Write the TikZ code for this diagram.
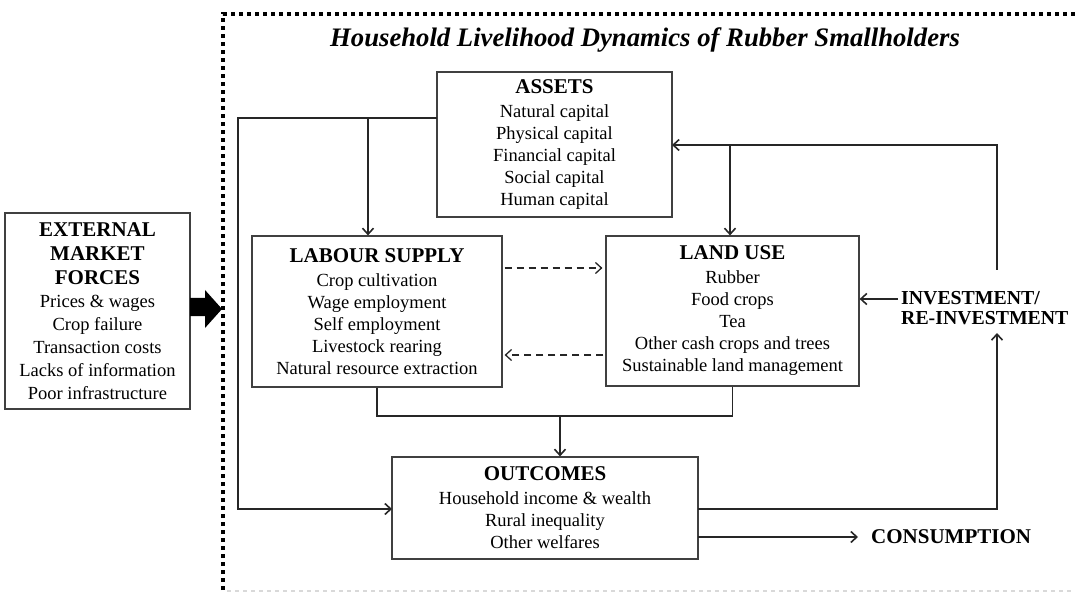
\documentclass[tikz,border=0pt]{standalone}
\usepackage{fontspec}
\setmainfont{Liberation Serif}
\usetikzlibrary{arrows.meta,positioning}

\newcommand{\boxhead}[1]{{\bfseries\fontsize{21}{22}\selectfont #1}}

\begin{document}
\begin{tikzpicture}[x=1pt,y=-1pt,>={Straight Barb[length=6pt,width=11pt]},
    box/.style={draw=black!75,line width=1.2pt,align=center,inner sep=0pt,font=\fontsize{18.5}{22}\selectfont},
    conn/.style={->,draw=black!85,line width=1.6pt},
    link/.style={draw=black!85,line width=1.6pt},
    frame/.style={line width=4pt,dash pattern=on 4pt off 4pt}]
    \useasboundingbox (0,0) rectangle (1075,593);
    \clip (0,0) rectangle (1075,593);

    % boxes
    \node[box,minimum width=235pt,minimum height=145pt] (assets) at (554.5,144.5)
        {\boxhead{ASSETS}\\[2pt] Natural capital\\ Physical capital\\ Financial capital\\ Social capital\\ Human capital};
    \node[box,minimum width=250pt,minimum height=151pt] (labour) at (377,311.5)
        {\boxhead{LABOUR SUPPLY}\\[2pt] Crop cultivation\\ Wage employment\\ Self employment\\ Livestock rearing\\ Natural resource extraction};
    \node[box,minimum width=253pt,minimum height=150pt] (landuse) at (732.5,311)
        {\boxhead{LAND USE}\\[2pt] Rubber\\ Food crops\\ Tea\\ Other cash crops and trees\\ Sustainable land management};
    \node[box,minimum width=306pt,minimum height=102pt] (outcomes) at (545,508)
        {\boxhead{OUTCOMES}\\[2pt] Household income \& wealth\\ Rural inequality\\ Other welfares};
    \node[box,minimum width=185pt,minimum height=196pt,font=\fontsize{18.5}{23}\selectfont] (market) at (97.5,311)
        {\boxhead{EXTERNAL}\\[1pt] \boxhead{MARKET}\\[1pt] \boxhead{FORCES}\\ Prices \& wages\\ Crop failure\\ Transaction costs\\ Lacks of information\\ Poor infrastructure};

    \node[font=\fontsize{26.7}{30}\selectfont\bfseries\itshape] (title) at (645,40)
        {Household Livelihood Dynamics of Rubber Smallholders};
    \node[align=left,anchor=west,inner sep=2pt,font=\fontsize{19.8}{20}\selectfont\bfseries] (invest) at (899,308)
        {INVESTMENT/\\RE-INVESTMENT};
    \node[anchor=west,inner xsep=13pt,font=\fontsize{21}{20}\selectfont\bfseries] (cons) at (858,537) {CONSUMPTION};

    % dotted frame
    \draw[frame] (223,590) -- (223,14) -- (1075,14);
    \draw[black!15,line width=1.5pt,dash pattern=on 4pt off 4pt] (227,591) -- (1075,591);

    % thick arrow into the frame
    \coordinate (fa) at (190,298);
    \coordinate (fb) at (190,316);
    \fill (fa) -- (205,298) -- (205,290) -- (222,309) -- (205,328) -- (205,316) -- (fb) -- cycle;

    % helper points
    \coordinate (aL) at (437,118);
    \coordinate (cornerL) at (238,118);
    \coordinate (bL) at (368,118);
    \coordinate (oL) at (392,509);
    \coordinate (aR) at (672,145);
    \coordinate (bR) at (730,145);
    \coordinate (invtop) at (997,270);
    \coordinate (invbot) at (997,333);
    \coordinate (oR) at (698,509);
    \coordinate (oC) at (698,537);
    \coordinate (join) at (560,416);
    \coordinate (iv) at (898,299);

    % connectors
    \draw[conn] (aL) -- (cornerL) |- (oL);
    \draw[conn] (bL) -- (bL |- labour.north);
    \draw[conn] (invtop) |- (aR);
    \draw[conn] (bR) -- (bR |- landuse.north);
    \draw[conn] (iv) -- (iv -| landuse.east);
    \draw[conn] (oR) -| (invbot);
    \draw[conn] (oC) -- (cons.west);
    \draw[link] (labour.south) |- (join) -| (landuse.south);
    \draw[conn] (join) -- (join |- outcomes.north);
    \draw[conn,line width=1.3pt,dash pattern=on 7pt off 5pt,shorten >=3pt,shorten <=2pt]
        ([yshift=43.5pt]labour.east) -- ([yshift=43pt]landuse.west);
    \draw[conn,line width=1.3pt,dash pattern=on 7pt off 5pt,shorten >=2pt,shorten <=2pt]
        ([yshift=-44pt]landuse.west) -- ([yshift=-43.5pt]labour.east);
\end{tikzpicture}
\end{document}
